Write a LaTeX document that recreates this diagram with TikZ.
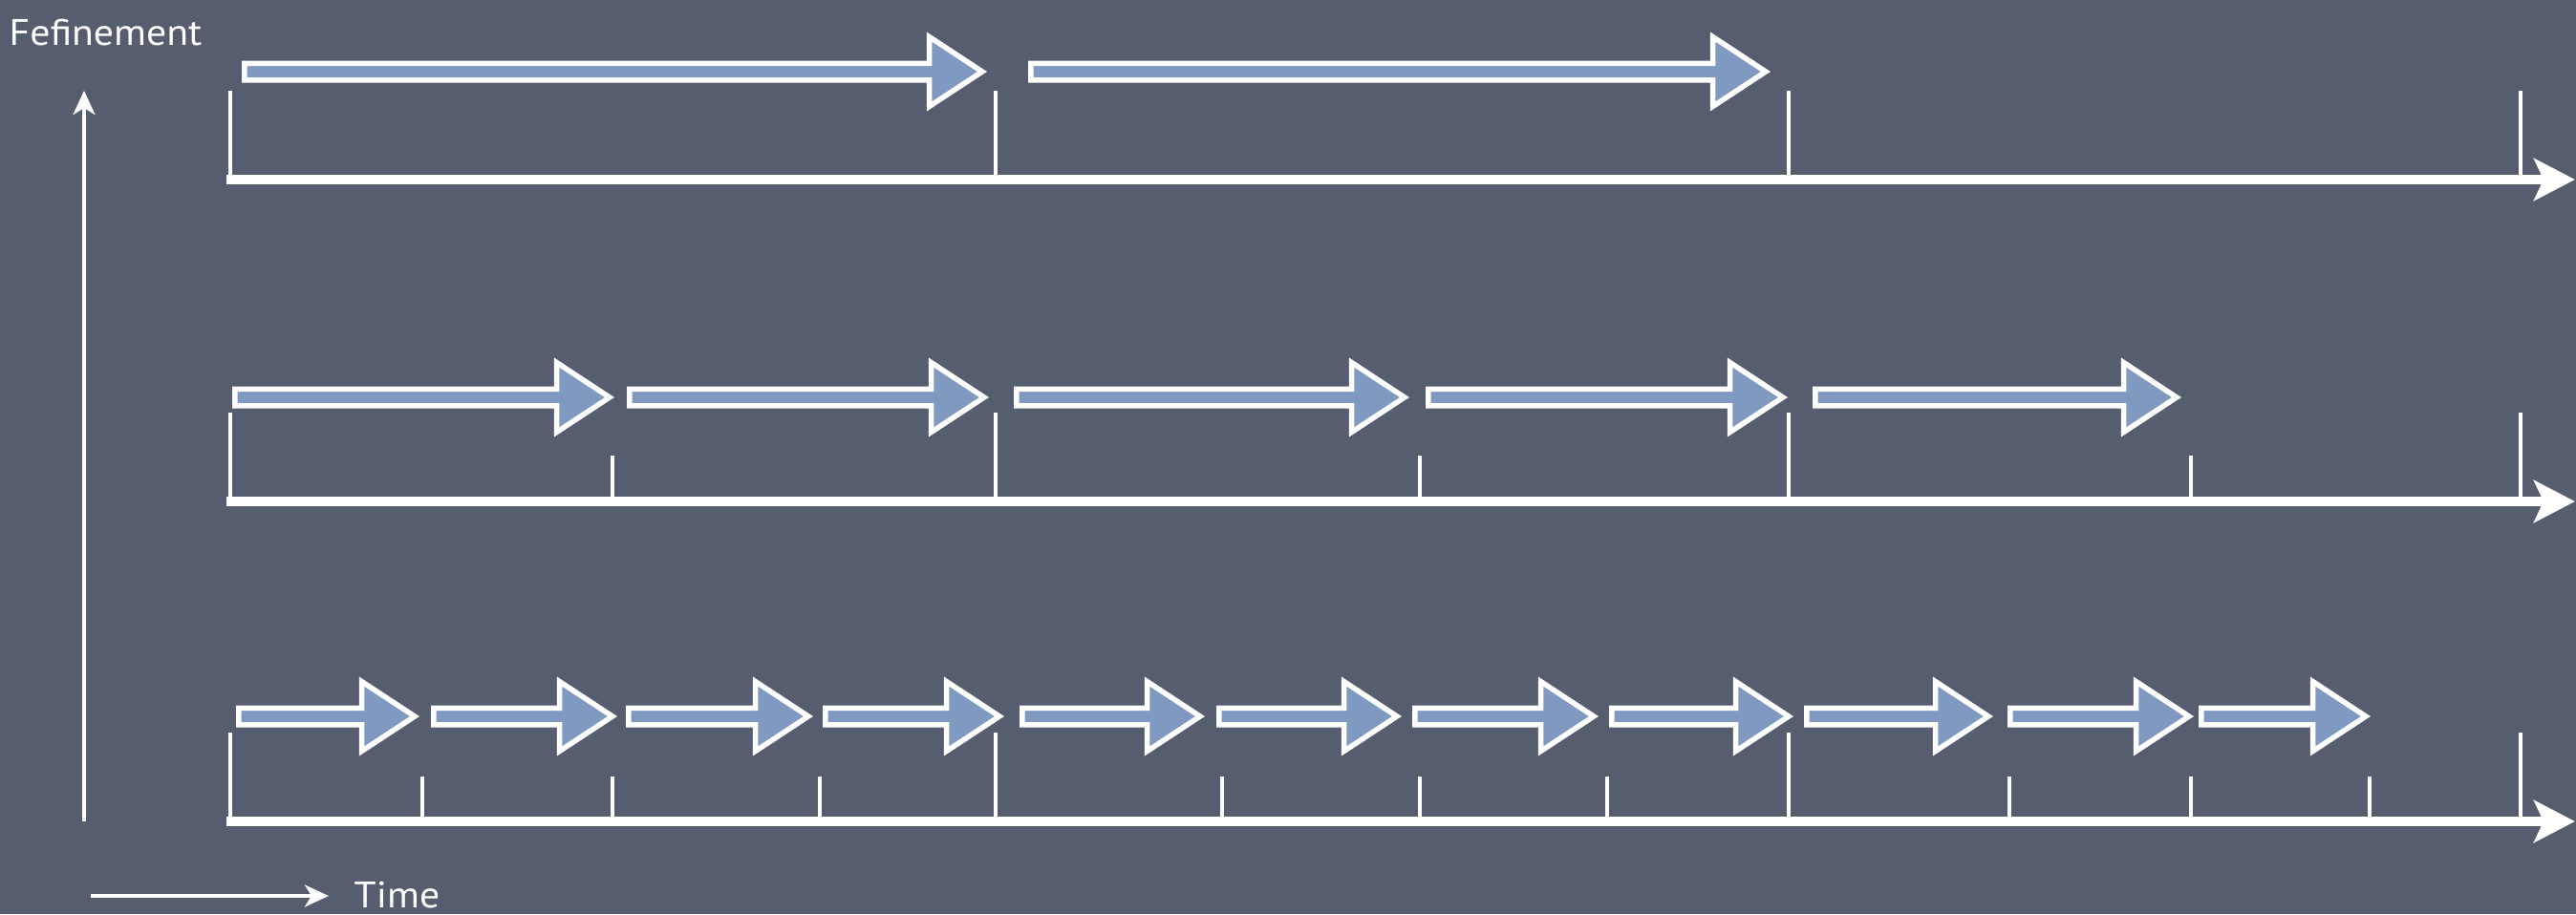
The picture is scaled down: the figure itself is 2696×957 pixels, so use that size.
\documentclass[tikz,border=0pt]{standalone}
\usepackage{fontspec}
\newfontfamily\chalk[FakeStretch=1.08]{PT Sans}
\usetikzlibrary{arrows.meta}
\definecolor{board}{RGB}{86,93,110}
\definecolor{arrowblue}{RGB}{128,153,192}
\tikzset{
  axisline/.style={white, line width=0.1cm, line cap=butt,
    -{Stealth[length=0.43cm,width=0.44cm,inset=0.1cm]}},
  tickmark/.style={white, line width=0.045cm},
  blockarrow/.style={draw=white, fill=arrowblue, line width=0.055cm, miter limit=10},
  guide/.style={white, line width=0.04cm,
    -{Stealth[length=0.25cm,width=0.23cm,inset=0.07cm]}},
  lbl/.style={white, inner sep=0pt, font=\chalk\fontsize{11}{13}\selectfont},
}
\newcommand\barrow[3]{%
  \filldraw[blockarrow]
    ({#1+2.75},{#3-8.75}) -- ({#2-60.5},{#3-8.75}) -- ({#2-60.5},{#3-36.5})
    -- ({#2-5},{#3}) -- ({#2-60.5},{#3+36.5}) -- ({#2-60.5},{#3+8.75})
    -- ({#1+2.75},{#3+8.75}) -- cycle;}
\begin{document}
\begin{tikzpicture}[x=0.01cm, y=-0.01cm]
  \useasboundingbox (0,0) rectangle (2696,957);
  \fill[board] (0,0) rectangle (2696,957);

  % labels
  \node[lbl, anchor=base west] (refine) at (9,47) {Fefinement};
  \node[lbl, anchor=base west] (time) at (370,950) {Time};

  % guide arrows
  \coordinate (vbot) at (88,860);
  \coordinate (vtop) at (88,95);
  \draw[guide] (vbot) -- (vtop);
  \coordinate (tstart) at (95,938);
  \coordinate (tend) at (344,938);
  \draw[guide] (tstart) -- (tend);

  % axes
  \foreach \y/\n in {188/1, 525/2, 860/3} {
    \coordinate (ax\n s) at (237,\y);
    \coordinate (ax\n e) at (2695,\y);
    \draw[axisline] (ax\n s) -- (ax\n e);
    \foreach \x in {241, 1042, 1872, 2638}
      {\draw[tickmark] (\x,\y) -- (\x,\y-93);}
  }
  % short ticks
  \foreach \x in {641, 1486, 2293}
    {\draw[tickmark] (\x,525) -- (\x,525-48);}
  \foreach \x in {442, 641, 858, 1279, 1486, 1682, 2103, 2293, 2480}
    {\draw[tickmark] (\x,860) -- (\x,860-47);}

  % block arrows
  \foreach \a/\b in {253/1033, 1076/1853}
    {\barrow{\a}{\b}{75}}
  \foreach \a/\b in {243/643, 656/1035, 1061/1475, 1492/1871, 1897/2283}
    {\barrow{\a}{\b}{416}}
  \foreach \a/\b in {247/439, 451/646, 655/851, 861/1051, 1067/1261, 1273/1467,
                     1478/1673, 1684/1877, 1888/2086, 2101/2296, 2301/2481}
    {\barrow{\a}{\b}{750}}
\end{tikzpicture}
\end{document}
